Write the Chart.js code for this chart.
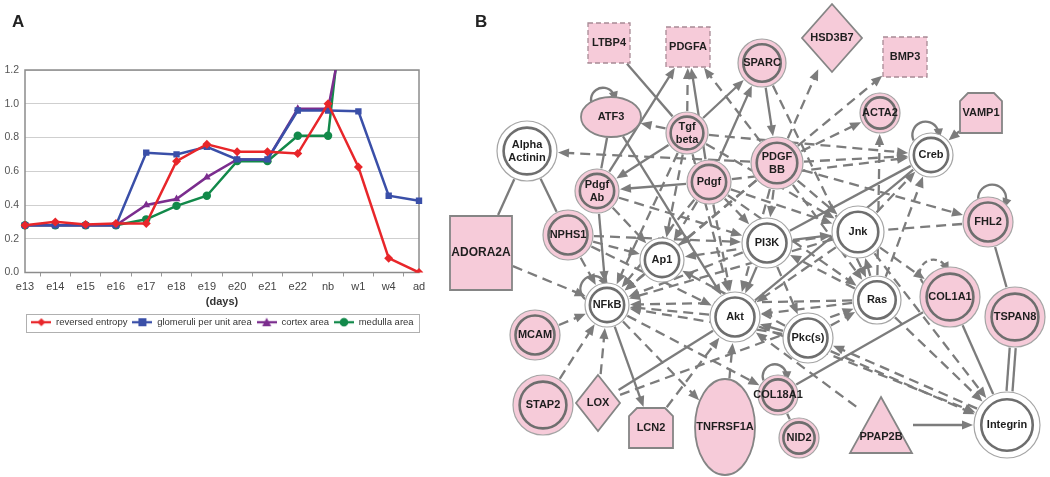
<!DOCTYPE html>
<html>
<head>
<meta charset="utf-8">
<script src="https://cdn.jsdelivr.net/npm/chart.js@4.4.1/dist/chart.umd.min.js"></script>
<style>
body{margin:0;background:#fff;width:1050px;height:477px;overflow:hidden;position:relative;font-family:"Liberation Sans",Arial,sans-serif}
#wrapA{position:absolute;left:0;top:0;width:440px;height:345px}
#wrapB{position:absolute;left:440px;top:0;width:610px;height:477px}
.lab{position:absolute;font-weight:bold;font-size:17px;color:#222;z-index:2}
</style>
</head>
<body>
<div id="wrapA"><canvas id="grafA" width="440" height="345"></canvas></div>
<div id="wrapB"><canvas id="grafB" width="610" height="477"></canvas></div>
<div class="lab" style="left:12px;top:12px">A</div>
<div class="lab" style="left:475px;top:12px">B</div>
<script>
// painel A
const dias = ['e13','e14','e15','e16','e17','e18','e19','e20','e21','e22','nb','w1','w4','ad'];
const entropia   = [0.28,0.30,0.285,0.29,0.29,0.66,0.76,0.715,0.715,0.705,1.00,0.625,0.085,0.00];
const glomerulos = [0.28,0.28,0.28,0.28,0.71,0.70,0.745,0.67,0.67,0.96,0.96,0.955,0.455,0.425];
const cortex     = [0.28,0.28,0.28,0.28,0.40,0.435,0.565,0.67,0.67,0.97,0.97,1.9,null,null];
const medula     = [0.28,0.28,0.28,0.28,0.315,0.395,0.455,0.66,0.66,0.81,0.81,2.4,null,null];
const nomesSeries = ['reversed entropy','glomeruli per unit area','cortex area','medulla area'];
const ticksY = [0,0.2,0.4,0.6,0.8,1.0,1.2];

// painel B
const nos = ['LTBP4','PDGFA','SPARC','HSD3B7','BMP3','ACTA2','VAMP1','Creb','PDGF BB','ATF3','Tgf beta',
  'Alpha Actinin','Pdgf','Pdgf Ab','NPHS1','ADORA2A','Ap1','PI3K','Jnk','FHL2','NFkB','Akt','Ras','COL1A1',
  'TSPAN8','MCAM','Pkc(s)','STAP2','LOX','LCN2','TNFRSF1A','COL18A1','NID2','PPAP2B','Integrin'];
const nosX = [609,688,762,832,905,880,981,931,777,611,687,527,709,597,568,481,662,767,858,988,607,735,877,950,
  1015,535,808,543,598,651,725,778,799,881,1007];
const nosY = [43,47,63,38,57,113,113,155,163,117,133,151,182,191,235,253,260,243,232,222,305,317,300,297,
  317,335,338,405,403,428,427,395,438,425,425];

const ligacoes = [
  ['LTBP4','Tgf beta','s'],['Pdgf Ab','PDGFA','a'],['Tgf beta','PDGFA','d'],['Pdgf','PDGFA','a'],
  ['PDGF BB','PDGFA','d'],['Tgf beta','SPARC','a'],['Pdgf','SPARC','a'],['SPARC','PDGF BB','a'],
  ['SPARC','Ras','d'],['PDGF BB','HSD3B7','d'],['PDGF BB','BMP3','d'],['PDGF BB','ACTA2','d'],
  ['PDGF BB','Creb','d'],['Pdgf','Creb','d'],['Ras','ACTA2','d'],['VAMP1','Creb','a'],
  ['Tgf beta','ATF3','d'],['PDGF BB','Alpha Actinin','d'],['Tgf beta','Pdgf Ab','a'],['Pdgf','Pdgf Ab','a'],
  ['ATF3','Pdgf Ab','s'],['Pdgf Ab','NFkB','a'],['ATF3','Akt','a'],['Alpha Actinin','ADORA2A','s'],
  ['Alpha Actinin','NPHS1','s'],['ADORA2A','NFkB','d'],['NPHS1','Ap1','d'],['NPHS1','NFkB','d'],
  ['NPHS1','Akt','d'],['NPHS1','PI3K','d'],['Pdgf Ab','Ap1','d'],['Pdgf Ab','PI3K','d'],
  ['Pdgf','Ap1','d'],['Pdgf','NFkB','d'],['Pdgf','Akt','d'],['Pdgf','PI3K','d'],['Pdgf','Jnk','d'],
  ['Pdgf','Ras','d'],['PDGF BB','PI3K','d'],['PDGF BB','Jnk','d'],['PDGF BB','Akt','d'],['PDGF BB','Ap1','d'],
  ['PDGF BB','NFkB','d'],['PDGF BB','Ras','d'],['PDGF BB','FHL2','d'],['Tgf beta','Akt','d'],
  ['Tgf beta','Ap1','d'],['Tgf beta','NFkB','d'],['Tgf beta','Jnk','d'],['Tgf beta','Creb','d'],
  ['Jnk','Ap1','d'],['PI3K','Akt','a'],['PI3K','NFkB','d'],['PI3K','Jnk','a'],['PI3K','Creb','s'],
  ['Ap1','NFkB','d'],['Akt','NFkB','d'],['Ras','NFkB','d'],['Ras','Akt','d'],['Ras','PI3K','d'],
  ['Ras','Jnk','d'],['Jnk','NFkB','d'],['Jnk','Akt','d'],['Akt','Creb','s'],['Pkc(s)','NFkB','d'],
  ['Pkc(s)','Akt','a'],['Pkc(s)','Ras','d'],['Pkc(s)','Ap1','d'],['PI3K','Pkc(s)','d'],['MCAM','NFkB','d'],
  ['STAP2','NFkB','d'],['LOX','NFkB','d'],['LOX','Akt','s'],['LOX','Ras','d'],['NFkB','LCN2','a'],
  ['LCN2','Akt','d'],['NFkB','TNFRSF1A','d'],['NFkB','COL18A1','d'],['TNFRSF1A','Akt','d'],
  ['COL18A1','COL1A1','s'],['COL18A1','NID2','ds'],['Pkc(s)','Integrin','d'],['Integrin','Pkc(s)','d'],
  ['Akt','Integrin','d'],['Ras','Integrin','d'],['Jnk','Integrin','d'],['PPAP2B','Integrin','a'],
  ['TSPAN8','Integrin','s'],['Integrin','TSPAN8','s'],['COL1A1','Integrin','s'],['FHL2','TSPAN8','s'],
  ['FHL2','Jnk','ds'],['Jnk','COL1A1','d'],['PPAP2B','Akt','d'],['Jnk','Creb','d'],['Ras','Creb','d']
];
const lacos = ['ATF3','Creb','FHL2','NFkB','COL18A1','COL1A1'];

// estilos dos nos: forma, raio x, raio y
const estilos = {
  'LTBP4':['caixaTrac',21,20],'PDGFA':['caixaTrac',22,20],'SPARC':['duplo',24],'HSD3B7':['losango',30,34],
  'BMP3':['caixaTrac',22,20],'ACTA2':['duplo',20],'VAMP1':['casa',21,20],'Creb':['branco',22],
  'PDGF BB':['duplo',26],'ATF3':['elipse',30,20],'Tgf beta':['duplo',21],'Alpha Actinin':['branco',30],
  'Pdgf':['duplo',22],'Pdgf Ab':['duplo',22],'NPHS1':['duplo',25],'ADORA2A':['caixa',31,37],
  'Ap1':['branco',22],'PI3K':['branco',25],'Jnk':['branco',26],'FHL2':['duplo',25],'NFkB':['branco',22],
  'Akt':['branco',25],'Ras':['branco',24],'COL1A1':['duplo',30],'TSPAN8':['duplo',30],'MCAM':['duplo',25],
  'Pkc(s)':['branco',25],'STAP2':['duplo',30],'LOX':['losango',22,28],'LCN2':['casa',22,20],
  'TNFRSF1A':['elipse',30,48],'COL18A1':['duplo',20],'NID2':['duplo',20],'PPAP2B':['triangulo',31,28],
  'Integrin':['branco',33]
};
const angLaco = {'ATF3':-115,'Creb':-105,'FHL2':-80,'NFkB':-130,'COL18A1':-100,'COL1A1':-125};

const ROSA = '#f6cbd9';
const CINZA = '#7c7c7c';
const FONTE = '"Liberation Sans", Arial, sans-serif';

function iconeLegenda(cor, estilo) {
    const c = document.createElement('canvas');
    c.width = 20; c.height = 10;
    const g = c.getContext('2d');
    g.strokeStyle = cor; g.fillStyle = cor; g.lineWidth = 2.3;
    g.beginPath(); g.moveTo(0, 5); g.lineTo(20, 5); g.stroke();
    g.beginPath();
    if (estilo === 'rectRot') { g.moveTo(10, 1); g.lineTo(14, 5); g.lineTo(10, 9); g.lineTo(6, 5); }
    else if (estilo === 'rect') { g.rect(6, 1, 8, 8); }
    else if (estilo === 'triangle') { g.moveTo(10, 0.5); g.lineTo(14.5, 9); g.lineTo(5.5, 9); }
    else { g.arc(10, 5, 4.3, 0, Math.PI * 2); }
    g.fill();
    return c;
}

const cores = ['#e8262a', '#3a4fa8', '#7b2d8e', '#12894a'];
const marcas = ['rectRot', 'rect', 'triangle', 'circle'];
const tamanhos = [4.5, 4.5, 4.5, 4.2];
const icones = cores.map((c, i) => iconeLegenda(c, marcas[i]));

const bordaGrafico = {
    id: 'bordaGrafico',
    afterLayout(chart) {
        // a legenda fica um pouco a direita, como no original
        const lg = chart.legend, d = 13;
        lg.left += d; lg.right += d;
        (lg.legendHitBoxes || []).forEach(h => { h.left += d; });
    },
    beforeDatasetsDraw(chart) {
        const a = chart.chartArea, ctx = chart.ctx;
        ctx.save(); ctx.strokeStyle = '#8c8c8c'; ctx.lineWidth = 1.5;
        ctx.strokeRect(a.left, a.top, a.right - a.left, a.bottom - a.top);
        ctx.restore();
    },
    afterDraw(chart) {
        const hb = chart.legend.legendHitBoxes;
        if (!hb || !hb.length) return;
        const x0 = Math.min(...hb.map(h => h.left)) - 5;
        const x1 = Math.max(...hb.map(h => h.left + h.width)) + 6;
        const y0 = Math.min(...hb.map(h => h.top)) - 4;
        const y1 = Math.max(...hb.map(h => h.top + h.height)) + 4;
        const ctx = chart.ctx;
        ctx.save(); ctx.strokeStyle = '#b0b0b0'; ctx.lineWidth = 1;
        ctx.strokeRect(Math.round(x0) + 0.5, Math.round(y0) + 0.5, Math.round(x1 - x0), Math.round(y1 - y0));
        ctx.restore();
    }
};

const seriesA = [entropia, glomerulos, cortex, medula];

new Chart(document.getElementById('grafA').getContext('2d'), {
    type: 'line',
    data: {
        labels: dias,
        datasets: seriesA.map((d, i) => ({
            label: nomesSeries[i],
            data: d,
            borderColor: cores[i],
            backgroundColor: cores[i],
            borderWidth: 2.5,
            pointStyle: marcas[i],
            pointRadius: tamanhos[i],
            pointBorderWidth: 0,
            tension: 0,
            fill: false
        }))
    },
    options: {
        responsive: false,
        animation: false,
        layout: { padding: { top: 70, right: 21, left: 0, bottom: 8 } },
        plugins: {
            tooltip: { enabled: false },
            legend: {
                position: 'bottom',
                labels: {
                    usePointStyle: true,
                    pointStyleWidth: 20,
                    padding: 5,
                    color: '#333',
                    font: { family: FONTE, size: 9.5 },
                    generateLabels: chart => Chart.defaults.plugins.legend.labels.generateLabels(chart)
                        .map(l => Object.assign(l, { pointStyle: icones[l.datasetIndex] }))
                }
            }
        },
        scales: {
            y: {
                min: 0, max: 1.2,
                afterBuildTicks: s => { s.ticks = ticksY.map(v => ({ value: v })); },
                afterFit: s => { s.width = 25; },
                ticks: { callback: v => v.toFixed(1), color: '#555', padding: 6, font: { family: FONTE, size: 10.5 } },
                grid: { color: '#cfcfcf', lineWidth: 1, drawTicks: false },
                border: { display: false }
            },
            x: {
                afterFit: s => { s.height = 40; },
                grid: { drawOnChartArea: false, offset: true, tickLength: 4, color: '#999' },
                border: { display: false },
                ticks: { color: '#444', padding: 4, font: { family: FONTE, size: 11 } },
                title: { display: true, text: '(days)', color: '#333', padding: { top: 0 }, font: { family: FONTE, size: 11, weight: 'bold' } }
            }
        }
    },
    plugins: [bordaGrafico]
});

// ---- painel B: rede ----
function distBorda(nome, ux, uy) {
    const e = estilos[nome];
    const rx = e[1], ry = e[2] || e[1];
    if (e[0] === 'caixa' || e[0] === 'caixaTrac' || e[0] === 'casa') {
        return Math.min(rx / Math.max(Math.abs(ux), 1e-6), ry / Math.max(Math.abs(uy), 1e-6));
    }
    return 1 / Math.sqrt((ux / rx) ** 2 + (uy / ry) ** 2);
}

function ponta(ctx, x, y, ux, uy) {
    ctx.save();
    ctx.setLineDash([]);
    ctx.beginPath();
    ctx.moveTo(x, y);
    ctx.lineTo(x - ux * 11 - uy * 4.6, y - uy * 11 + ux * 4.6);
    ctx.lineTo(x - ux * 11 + uy * 4.6, y - uy * 11 - ux * 4.6);
    ctx.closePath();
    ctx.fill();
    ctx.restore();
}

function desenhaNo(ctx, nome, x, y) {
    const [forma, rx, ry0] = estilos[nome];
    const ry = ry0 || rx;
    ctx.save();
    ctx.setLineDash([]);
    ctx.fillStyle = ROSA;
    ctx.strokeStyle = '#858585';
    ctx.lineWidth = 1.8;
    ctx.beginPath();
    if (forma === 'duplo' || forma === 'branco') {
        ctx.fillStyle = forma === 'duplo' ? ROSA : '#fff';
        ctx.arc(x, y, rx, 0, Math.PI * 2);
        ctx.fill();
        ctx.strokeStyle = '#a5a5a5'; ctx.lineWidth = 1.2; ctx.stroke();
        ctx.beginPath();
        ctx.arc(x, y, rx * 0.78, 0, Math.PI * 2);
        ctx.strokeStyle = '#6e6e6e'; ctx.lineWidth = 2.6; ctx.stroke();
    } else if (forma === 'caixaTrac' || forma === 'caixa') {
        ctx.rect(x - rx, y - ry, rx * 2, ry * 2);
        ctx.fill();
        if (forma === 'caixaTrac') { ctx.setLineDash([5, 3]); ctx.strokeStyle = '#a88a95'; ctx.lineWidth = 1.3; }
        ctx.stroke();
    } else if (forma === 'losango') {
        ctx.moveTo(x, y - ry); ctx.lineTo(x + rx, y); ctx.lineTo(x, y + ry); ctx.lineTo(x - rx, y); ctx.closePath();
        ctx.fill(); ctx.stroke();
    } else if (forma === 'elipse') {
        ctx.ellipse(x, y, rx, ry, 0, 0, Math.PI * 2);
        ctx.fill(); ctx.stroke();
    } else if (forma === 'casa') {
        const c = 8;
        ctx.moveTo(x - rx, y + ry); ctx.lineTo(x - rx, y - ry + c); ctx.lineTo(x - rx + c, y - ry);
        ctx.lineTo(x + rx - c, y - ry); ctx.lineTo(x + rx, y - ry + c); ctx.lineTo(x + rx, y + ry); ctx.closePath();
        ctx.fill(); ctx.stroke();
    } else if (forma === 'triangulo') {
        ctx.moveTo(x, y - ry); ctx.lineTo(x + rx, y + ry); ctx.lineTo(x - rx, y + ry); ctx.closePath();
        ctx.fill(); ctx.stroke();
    }
    // rotulo
    ctx.fillStyle = '#1e1e1e';
    ctx.textAlign = 'center';
    ctx.textBaseline = 'middle';
    const tam = nome === 'ADORA2A' ? 12 : 11;
    ctx.font = 'bold ' + tam + 'px ' + FONTE;
    const linhas = nome.split(' ');
    const dy = forma === 'triangulo' ? 12 : 0;
    linhas.forEach((t, i) => ctx.fillText(t, x, y + dy + (i - (linhas.length - 1) / 2) * 13));
    ctx.restore();
}

const redePlugin = {
    id: 'rede',
    beforeDatasetsDraw(chart) {
        const ctx = chart.ctx;
        const pts = chart.getDatasetMeta(0).data;
        const pos = {};
        nos.forEach((n, i) => { pos[n] = pts[i]; });
        ctx.save();
        ctx.strokeStyle = CINZA;
        ctx.fillStyle = CINZA;
        ctx.lineWidth = 2.3;
        ligacoes.forEach(([de, para, tipo]) => {
            const p1 = pos[de], p2 = pos[para];
            let dx = p2.x - p1.x, dy = p2.y - p1.y;
            const len = Math.hypot(dx, dy);
            const ux = dx / len, uy = dy / len;
            // ligacoes nos dois sentidos ficam lado a lado
            const par = ligacoes.some(l => l[0] === para && l[1] === de);
            const off = par ? 3 : 0;
            const ox = -uy * off, oy = ux * off;
            const b1 = distBorda(de, ux, uy) + 1;
            const b2 = distBorda(para, -ux, -uy) + 1;
            const x1 = p1.x + ux * b1 + ox, y1 = p1.y + uy * b1 + oy;
            const x2 = p2.x - ux * b2 + ox, y2 = p2.y - uy * b2 + oy;
            const seta = tipo === 'a' || tipo === 'd';
            ctx.setLineDash(tipo === 'd' || tipo === 'ds' ? [10, 6] : []);
            ctx.beginPath();
            ctx.moveTo(x1, y1);
            ctx.lineTo(seta ? x2 - ux * 8 : x2, seta ? y2 - uy * 8 : y2);
            ctx.stroke();
            if (seta) ponta(ctx, x2, y2, ux, uy);
        });
        lacos.forEach(n => {
            const p = pos[n];
            const r = estilos[n][2] || estilos[n][1];
            const a = angLaco[n] * Math.PI / 180;
            const cx = p.x + Math.cos(a) * r * 0.95, cy = p.y + Math.sin(a) * r * 0.95;
            const lr = Math.min(r * 0.6, 14);
            const a0 = a - 1.75, a1 = a + 1.75;
            ctx.setLineDash(n === 'COL1A1' ? [6, 4] : []);
            ctx.beginPath();
            ctx.arc(cx, cy, lr, a0, a1);
            ctx.stroke();
            const ex = cx + Math.cos(a1) * lr, ey = cy + Math.sin(a1) * lr;
            const tx = -Math.sin(a1), ty = Math.cos(a1);
            ponta(ctx, ex + tx * 6, ey + ty * 6, tx, ty);
        });
        ctx.restore();
    },
    afterDatasetsDraw(chart) {
        const pts = chart.getDatasetMeta(0).data;
        nos.forEach((n, i) => desenhaNo(chart.ctx, n, pts[i].x, pts[i].y));
    }
};

new Chart(document.getElementById('grafB').getContext('2d'), {
    type: 'scatter',
    data: {
        datasets: [{
            data: nos.map((n, i) => ({ x: nosX[i], y: nosY[i] })),
            pointRadius: 0
        }]
    },
    options: {
        responsive: false,
        animation: false,
        layout: { padding: 0 },
        plugins: { legend: { display: false }, tooltip: { enabled: false } },
        scales: {
            x: { type: 'linear', min: 440, max: 1050, display: false },
            y: { type: 'linear', min: 0, max: 477, reverse: true, display: false }
        }
    },
    plugins: [redePlugin]
});
</script>
</body>
</html>
